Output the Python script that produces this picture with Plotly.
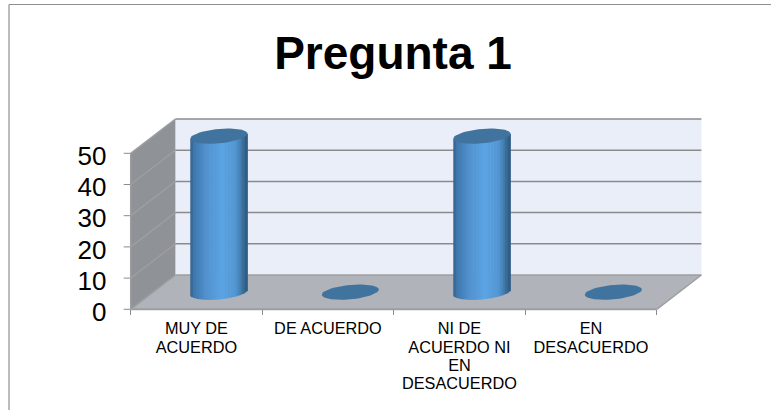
import math
import plotly.graph_objects as go

W, H = 771, 410

categories = ['MUY DE<br>ACUERDO', 'DE ACUERDO', 'NI DE<br>ACUERDO NI<br>EN<br>DESACUERDO', 'EN<br>DESACUERDO']
values = [50, 0, 50, 0]
y_ticks = [0, 10, 20, 30, 40, 50]

FONT = 'Liberation Sans'
GRID = '#8b8b8b'
EDGE = '#9c9ea1'
WALL = '#8f9296'
FLOOR = '#b0b3b9'
BACK = '#e9eef8'
CAP = '#41739f'
STOPS = [(0.0, '#2f5f8c'), (0.08, '#3f79ae'), (0.25, '#4f8ecb'), (0.55, '#5ca4e4'),
         (0.8, '#5296d2'), (0.92, '#3d729f'), (1.0, '#2c5a80')]

# front plane of the fake 3d box, pixels
X0, X1 = 130.7, 656.7
Y0, Y50 = 309.3, 153.3
DX, DY = 44.7, -34.3
PX_PER_UNIT = (Y0 - Y50) / 50
PX_PER_CAT = (X1 - X0) / 4
LABEL_NUDGE = 2.5  # y labels sit a little under their ticks

# cylinder geometry, pixels
A_PX, B_PX, TILT = 28.5, 7.2, 0.09
SLICES = 40


def px(x):
    return x / W


def py(y):
    return 1 - y / H


def poly(points, color):
    path = 'M ' + ' L '.join(f'{px(x)},{py(y)}' for x, y in points) + ' Z'
    return dict(type='path', path=path, xref='paper', yref='paper', fillcolor=color,
                line=dict(width=0), layer='below')


def seg(x0, y0, x1, y1, color=GRID, width=1.5):
    return dict(type='line', xref='paper', yref='paper', x0=px(x0), y0=py(y0), x1=px(x1), y1=py(y1),
                line=dict(color=color, width=width), layer='below')


def shade(t):
    for (t0, c0), (t1, c1) in zip(STOPS, STOPS[1:]):
        if t <= t1:
            f = (t - t0) / (t1 - t0)
            rgb = [round(int(c0[i:i + 2], 16) * (1 - f) + int(c1[i:i + 2], 16) * f) for i in (1, 3, 5)]
            return 'rgb({},{},{})'.format(*rgb)
    return STOPS[-1][1]


shapes = [
    seg(9, 4.5, W, 4.5, '#8f8f8f', 1.2),
    seg(9, 4.5, 9, H, '#8f8f8f', 1.2),
    poly([(X0 + DX, Y0 + DY), (X1 + DX, Y0 + DY), (X1 + DX, Y50 + DY), (X0 + DX, Y50 + DY)], BACK),
    poly([(X0, Y0), (X0, Y50), (X0 + DX, Y50 + DY), (X0 + DX, Y0 + DY)], WALL),
    poly([(X0, Y0), (X0 + DX, Y0 + DY), (X1 + DX, Y0 + DY), (X1, Y0)], FLOOR),
]
for v in y_ticks:
    yv = Y0 - v * PX_PER_UNIT
    shapes.append(seg(X0 - 7, yv, X0, yv, GRID, 1))
    shapes.append(seg(X0, yv, X0 + DX, yv + DY, EDGE))
    shapes.append(seg(X0 + DX, yv + DY, X1 + DX, yv + DY, EDGE if v == 0 else GRID))
shapes.append(seg(X0, Y0, X1, Y0, EDGE, 2))
shapes.append(seg(X1, Y0, X1 + DX, Y0 + DY, EDGE))
shapes.append(seg(X0, Y0, X0, Y50, EDGE))

fig = go.Figure()

# carries the category axis of the front plane
tick_text = [f'<span style="font-size:16.3px">{c.replace("<br>", "</span><br><span style=\"font-size:16.3px\">")}</span>'
             for c in categories]
fig.add_trace(go.Scatter(x=categories, y=values, mode='markers', marker=dict(opacity=0),
                         hoverinfo='skip', showlegend=False))

# cylinder bodies as thin vertical strips
strip = 2 * A_PX / SLICES
for s in range(SLICES):
    off_px = -A_PX + s * strip
    mid = off_px + strip / 2
    low = (mid * TILT - B_PX * math.sqrt(max(0, 1 - (mid / A_PX) ** 2))) / PX_PER_UNIT
    top = mid * TILT / PX_PER_UNIT
    fig.add_trace(go.Bar(
        x=list(range(len(values))),
        y=[v + top - low if v > 0 else None for v in values],
        base=[low if v > 0 else None for v in values],
        width=strip * 1.4 / PX_PER_CAT,
        offset=off_px / PX_PER_CAT,
        marker=dict(color=shade((s + 0.5) / SLICES), line=dict(width=0)),
        xaxis='x2', yaxis='y2', hoverinfo='skip', showlegend=False,
    ))

# cylinder caps, tilted ellipse at the height of each value
for i, v in enumerate(values):
    ex, ey = [], []
    for d in range(0, 361, 6):
        t = math.radians(d)
        dx = A_PX * math.cos(t)
        dy = B_PX * math.sin(t) + TILT * dx
        ex.append(i + dx / PX_PER_CAT)
        ey.append(v + dy / PX_PER_UNIT)
    fig.add_trace(go.Scatter(x=ex, y=ey, mode='lines', fill='toself', fillcolor=CAP,
                             line=dict(width=0, color=CAP), xaxis='x2', yaxis='y2',
                             hoverinfo='skip', showlegend=False))

mid_dx, mid_dy = DX / 2, DY / 2
low_v, high_v = -5, 60

fig.update_layout(
    template='none',
    width=W,
    height=H,
    margin=dict(l=0, r=0, t=0, b=0),
    paper_bgcolor='white',
    plot_bgcolor='rgba(0,0,0,0)',
    barmode='overlay',
    showlegend=False,
    shapes=shapes,
    font=dict(family=FONT, color='black'),
    title=dict(text='<b>Pregunta 1</b>', x=393 / W, xanchor='center', y=1 - 53 / H, yanchor='middle',
               font=dict(family=FONT, size=46, color='black')),
    xaxis=dict(
        domain=[px(X0), px(X1)], type='category', categoryorder='array', categoryarray=categories,
        tickmode='array', tickvals=categories, ticktext=tick_text,
        range=[-0.5, 3.5], tickson='boundaries', ticks='outside', ticklen=5, tickcolor=GRID, tickwidth=1,
        showgrid=False, zeroline=False, showline=False, tickangle=0, automargin=False,
        ticklabelstandoff=10, tickfont=dict(family=FONT, size=14, color='black'),
        anchor='free', position=py(Y0),
    ),
    yaxis=dict(
        domain=[py(Y0 + LABEL_NUDGE), py(Y50 + LABEL_NUDGE)], range=[0, 50], tickvals=y_ticks, ticks='outside',
        ticklen=7, tickcolor='rgba(0,0,0,0)', tickwidth=1, showgrid=False, zeroline=False, showline=False,
        automargin=False, ticklabelstandoff=11, tickfont=dict(family=FONT, size=26, color='black'),
    ),
    xaxis2=dict(
        domain=[px(X0 + mid_dx), px(X1 + mid_dx)], range=[-0.5, 3.5], visible=False, anchor='y2',
        automargin=False,
    ),
    yaxis2=dict(
        domain=[py(Y0 + mid_dy - low_v * PX_PER_UNIT), py(Y0 + mid_dy - high_v * PX_PER_UNIT)],
        range=[low_v, high_v], visible=False, anchor='x2', automargin=False,
    ),
)

fig.write_html('out.html', config=dict(displayModeBar=False), post_script="document.body.style.margin='0';")
